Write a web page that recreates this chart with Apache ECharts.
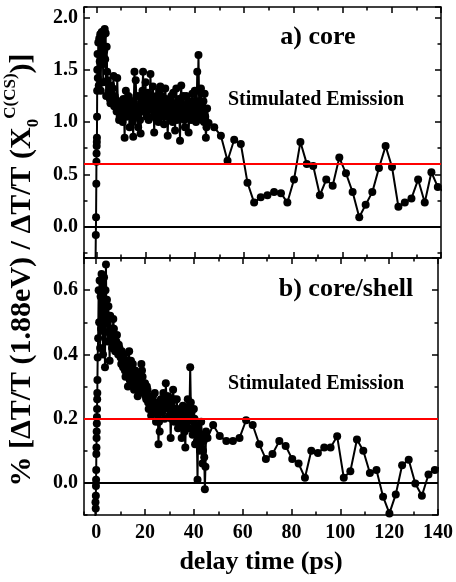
<!DOCTYPE html>
<html>
<head>
<meta charset="utf-8">
<script src="https://cdn.jsdelivr.net/npm/echarts@6/dist/echarts.min.js"></script>
<style>
  html, body { margin: 0; padding: 0; background: #fff; }
  #chart { width: 456px; height: 582px; }
</style>
</head>
<body>
<div id="chart"></div>
<script>
// rise near zero delay
var coreRiseDelay  = [-0.4, -0.2, -0.1, 0, 0.05, 0.1, 0.15, 0.2, 0.25, 0.3, 0.35, 0.4, 0.5,
  0.6, 0.8, 1.0, 1.2, 1.4, 1.6, 1.8, 2.0, 2.2, 2.4, 2.6, 2.8, 3.0, 3.2, 3.4, 3.6, 3.8, 4.0, 4.2, 4.4];
var coreRiseSignal = [-0.55, -0.08, 0.09, 0.41, 0.62, 0.70, 0.77, 0.81, 0.85, 1.05, 1.30, 1.50, 1.65,
  1.42, 1.76, 1.35, 1.80, 1.58, 1.84, 1.30, 1.78, 1.86, 1.55, 1.82, 1.38, 1.87, 1.68, 1.89, 1.60, 1.85, 1.25, 1.72, 1.48];

var shellRiseDelay  = [-0.4, -0.3, -0.2, -0.15, -0.1, -0.05, 0, 0.05, 0.1, 0.15, 0.2, 0.25, 0.3, 0.35, 0.4, 0.45, 0.5, 0.6,
  0.8, 1.0, 1.2, 1.4, 1.6, 1.8, 2.0, 2.2, 2.4, 2.6, 2.8, 3.0, 3.2, 3.4, 3.6, 3.8, 4.0, 4.2, 4.4];
var shellRiseSignal = [-0.16, -0.06, -0.08, -0.04, -0.01, 0.01, 0.04, 0.09, 0.11, 0.14, 0.16, 0.185, 0.205, 0.23, 0.26, 0.28, 0.32, 0.39,
  0.45, 0.60, 0.50, 0.63, 0.42, 0.58, 0.48, 0.65, 0.52, 0.62, 0.40, 0.55, 0.64, 0.47, 0.36, 0.60, 0.68, 0.50, 0.57];

// delays after the peak, shared by both panels
var tailDelay = [4.6, 5.0, 5.5, 6.0, 6.5, 7.0, 7.5, 8.0, 8.5, 9.0, 9.5, 10.0, 10.5, 11.0, 11.5, 12.0, 12.5, 13.0, 13.5, 14.0,
  14.5, 15.0, 15.5, 16.0, 16.5, 17.0, 17.5, 18.0, 18.5, 19.0, 19.5, 20.0, 20.5, 21.0, 21.5, 22.0, 22.5, 23.0, 23.5, 24.0,
  24.5, 25.0, 25.5, 26.0, 26.5, 27.0, 27.5, 28.0, 28.5, 29.0, 29.5, 30.0, 30.5, 31.0, 31.5, 32.0, 32.5, 33.0, 33.5, 34.0,
  34.5, 35.0, 35.5, 36.0, 36.5, 37.0, 37.5, 38.0, 38.5, 39.0, 39.5, 40.0, 40.5, 41.0, 41.5, 42.0, 42.5, 43.0, 43.5, 44.0,
  44.5, 45.0, 45.6,
  47.9, 50.6, 53.3, 56.0, 58.7, 61.4, 64.1, 66.8, 69.5, 72.2, 75.0, 77.6, 80.3, 82.9, 85.5, 88.1, 90.8, 93.4, 96.0, 98.7,
  101.4, 104.1, 106.8, 109.4, 112.1, 114.8, 117.5, 120.1, 122.7, 125.3, 128.0, 130.7, 133.4, 136.1, 138.7, 141.3];

var coreTail = [1.40, 1.28, 1.22, 1.35, 1.20, 1.44, 1.25, 1.15, 1.42, 1.12,
  1.05, 1.18, 1.08, 1.22, 0.85, 1.30, 1.10, 1.25, 0.95, 1.15,
  1.05, 0.86, 1.48, 1.40, 1.10, 0.95, 1.25, 0.89, 1.20, 1.48,
  1.10, 1.38, 1.05, 1.28, 1.12, 1.46, 1.20, 1.34, 0.90, 1.15,
  1.25, 1.05, 1.30, 1.34, 1.10, 1.18, 0.98, 1.32, 1.12, 0.87,
  1.20, 1.08, 1.25, 1.00, 1.18, 0.92, 1.32, 1.10, 1.22, 0.82,
  1.35, 1.05, 1.15, 0.95, 1.25, 1.08, 0.90, 1.20, 1.02, 1.27,
  1.10, 1.30, 1.00, 1.48, 1.64, 1.12, 1.32, 1.02, 1.20, 1.27,
  0.85, 1.13, 0.99,
  0.95, 0.87, 0.63, 0.83, 0.79, 0.42, 0.23, 0.28, 0.30, 0.33, 0.32, 0.23, 0.45, 0.81, 0.60, 0.58, 0.30, 0.45, 0.39, 0.66,
  0.51, 0.33, 0.09, 0.21, 0.33, 0.56, 0.77, 0.57, 0.19, 0.23, 0.27, 0.45, 0.23, 0.52, 0.38, 0.33];

var shellTail = [0.44, 0.55, 0.38, 0.48, 0.42, 0.51, 0.45, 0.43, 0.46, 0.40,
  0.42, 0.39, 0.41, 0.36, 0.40, 0.33, 0.38, 0.30, 0.41, 0.34,
  0.31, 0.37, 0.29, 0.35, 0.32, 0.27, 0.34, 0.30, 0.37, 0.33,
  0.28, 0.31, 0.26, 0.29, 0.23, 0.27, 0.21, 0.25, 0.22, 0.28,
  0.19, 0.24, 0.12, 0.16, 0.26, 0.22, 0.28, 0.20, 0.31, 0.24,
  0.27, 0.21, 0.14, 0.25, 0.29, 0.19, 0.23, 0.26, 0.17, 0.22,
  0.20, 0.14, 0.24, 0.18, 0.11, 0.21, 0.26, 0.17, 0.36, 0.22,
  0.15, 0.23, 0.12, 0.18, 0.01, 0.15, 0.10, 0.19, 0.06, 0.13,
  -0.02, 0.16, 0.14,
  0.18, 0.146, 0.13, 0.13, 0.14, 0.195, 0.18, 0.12, 0.074, 0.09, 0.13, 0.115, 0.074, 0.06, 0.016, 0.10, 0.093, 0.11, 0.11, 0.145,
  0.016, 0.036, 0.135, 0.10, 0.031, 0.04, -0.043, -0.095, -0.036, 0.055, 0.072, -0.002, -0.04, 0.026, 0.04, 0.05];

// in-between samples of the dense 5-45 ps stretch
var midDelay = [5.25, 5.75, 6.25, 6.75, 7.25, 7.75, 8.25, 8.75, 9.25, 9.75,
  10.25, 10.75, 11.25, 11.75, 12.25, 12.75, 13.25, 13.75, 14.25, 14.75,
  15.25, 15.75, 16.25, 16.75, 17.25, 17.75, 18.25, 18.75, 19.25, 19.75,
  20.25, 20.75, 21.25, 21.75, 22.25, 22.75, 23.25, 23.75, 24.25, 24.75,
  25.25, 25.75, 26.25, 26.75, 27.25, 27.75, 28.25, 28.75, 29.25, 29.75,
  30.25, 30.75, 31.25, 31.75, 32.25, 32.75, 33.25, 33.75, 34.25, 34.75,
  35.25, 35.75, 36.25, 36.75, 37.25, 37.75, 38.25, 38.75, 39.25, 39.75,
  40.25, 40.75, 41.25, 41.75, 42.25, 42.75, 43.25, 43.75, 44.25, 44.75];
var coreMid = [1.30, 1.18, 1.25, 1.32, 1.15, 1.22, 1.10, 1.20, 1.02, 1.12,
  1.15, 1.00, 1.10, 1.20, 1.05, 1.15, 1.22, 1.08, 1.18, 1.00,
  1.20, 1.12, 1.25, 1.05, 1.15, 1.02, 1.18, 1.30, 1.12, 1.22,
  1.08, 1.18, 1.02, 1.25, 1.12, 1.05, 1.18, 1.10, 1.20, 1.12,
  1.00, 1.22, 1.15, 1.25, 1.05, 1.15, 1.22, 1.05, 1.10, 1.15,
  1.20, 1.05, 1.28, 1.10, 1.15, 1.02, 1.12, 1.05, 1.20, 1.10,
  1.25, 1.02, 1.15, 1.12, 1.20, 1.05, 1.12, 1.18, 1.05, 1.15,
  1.20, 1.10, 1.30, 1.20, 1.05, 1.15, 1.10, 1.00, 1.05, 0.95];
var shellMid = [0.47, 0.52, 0.44, 0.47, 0.48, 0.41, 0.44, 0.42, 0.43, 0.40,
  0.37, 0.40, 0.38, 0.35, 0.36, 0.34, 0.36, 0.32, 0.38, 0.33,
  0.33, 0.31, 0.30, 0.33, 0.29, 0.31, 0.33, 0.35, 0.30, 0.29,
  0.27, 0.30, 0.25, 0.27, 0.24, 0.23, 0.27, 0.24, 0.25, 0.22,
  0.21, 0.19, 0.23, 0.24, 0.25, 0.26, 0.24, 0.27, 0.25, 0.23,
  0.24, 0.20, 0.22, 0.26, 0.22, 0.20, 0.23, 0.21, 0.19, 0.18,
  0.20, 0.21, 0.16, 0.19, 0.23, 0.21, 0.24, 0.25, 0.20, 0.19,
  0.20, 0.16, 0.13, 0.17, 0.12, 0.14, 0.15, 0.10, 0.08, 0.05];

var coreLevel = 0.6, shellLevel = 0.2;

var serif = '"Liberation Serif", "DejaVu Serif", serif';

// zip delay/value lists into [x, y] points ordered by delay
function pairs(xs, ys) {
  var out = [];
  for (var i = 0; i < xs.length; i++) out.push([xs[i], ys[i]]);
  out.sort(function (a, b) { return a[0] - b[0]; });
  return out;
}

// one axis = one set of inward ticks on a frame side
function xAx(grid, pos, step, len, labels) {
  return {
    type: 'value', gridIndex: grid, position: pos, min: -5, max: 140,
    minInterval: step, maxInterval: step, splitNumber: 20,
    axisLine: { show: false, onZero: false },
    axisTick: { show: true, inside: true, length: len, lineStyle: { color: '#000', width: 1.5 } },
    axisLabel: { show: labels, showMinLabel: false, color: '#000', fontFamily: serif, fontWeight: 'bold', fontSize: 20, margin: 8 },
    splitLine: { show: false }
  };
}
function yAx(grid, pos, min, max, step, len, labels) {
  return {
    type: 'value', gridIndex: grid, position: pos, min: min, max: max,
    minInterval: step, maxInterval: step, splitNumber: 20,
    axisLine: { show: false, onZero: false },
    axisTick: { show: true, inside: true, length: len, lineStyle: { color: '#000', width: 1.5 } },
    axisLabel: { show: labels, showMinLabel: false, showMaxLabel: false, color: '#000', fontFamily: serif,
      fontWeight: 'bold', fontSize: 20, margin: 6, formatter: function (v) { return v.toFixed(1); } },
    splitLine: { show: false }
  };
}

var xAxes = [
  xAx(0, 'bottom', 20, 6, false),
  xAx(1, 'bottom', 20, 6, true),
  xAx(0, 'bottom', 10, 3.5, false), xAx(0, 'top', 20, 6, false), xAx(0, 'top', 10, 3.5, false),
  xAx(1, 'bottom', 10, 3.5, false), xAx(1, 'top', 20, 6, false), xAx(1, 'top', 10, 3.5, false)
];
xAxes[1].name = 'delay time (ps)';
xAxes[1].nameLocation = 'middle';
xAxes[1].nameGap = 34;
xAxes[1].nameTextStyle = { color: '#000', fontFamily: serif, fontWeight: 'bold', fontSize: 26 };

var yAxes = [
  yAx(0, 'left', -0.3, 2.1, 0.5, 6, true),
  yAx(1, 'left', -0.1, 0.7, 0.2, 6, true),
  yAx(0, 'left', -0.3, 2.1, 0.25, 3.5, false), yAx(0, 'right', -0.3, 2.1, 0.5, 6, false), yAx(0, 'right', -0.3, 2.1, 0.25, 3.5, false),
  yAx(1, 'left', -0.1, 0.7, 0.1, 3.5, false), yAx(1, 'right', -0.1, 0.7, 0.2, 6, false), yAx(1, 'right', -0.1, 0.7, 0.1, 3.5, false)
];

function traceSeries(idx, data, level) {
  return {
    type: 'line', xAxisIndex: idx, yAxisIndex: idx, data: data,
    symbol: 'circle', symbolSize: 8, showSymbol: true,
    itemStyle: { color: '#000' },
    lineStyle: { color: '#000', width: 2 },
    clip: true, silent: true, animation: false,
    markLine: {
      silent: true, symbol: 'none', label: { show: false }, animation: false,
      data: [
        { yAxis: 0, lineStyle: { color: '#000', width: 1.8, type: 'solid' } },
        { yAxis: level, lineStyle: { color: '#f00', width: 2, type: 'solid' } }
      ]
    }
  };
}

var chart = echarts.init(document.getElementById('chart'), null, { renderer: 'canvas' });
chart.setOption({
  backgroundColor: '#fff',
  animation: false,
  grid: [
    { left: 84, top: 7, width: 357, height: 251, show: true, borderColor: '#000', borderWidth: 1.5, backgroundColor: 'transparent' },
    { left: 84, top: 258, width: 357, height: 257, show: true, borderColor: '#000', borderWidth: 1.5, backgroundColor: 'transparent' }
  ],
  xAxis: xAxes,
  yAxis: yAxes,
  series: [
    traceSeries(0, pairs(coreRiseDelay.concat(tailDelay, midDelay), coreRiseSignal.concat(coreTail, coreMid)), coreLevel),
    traceSeries(1, pairs(shellRiseDelay.concat(tailDelay, midDelay), shellRiseSignal.concat(shellTail, shellMid)), shellLevel)
  ],
  graphic: [
    { type: 'text', x: 318, y: 37, style: { text: 'a) core', fill: '#000', font: 'bold 26px ' + serif, align: 'center', verticalAlign: 'middle' } },
    { type: 'text', x: 346, y: 289, style: { text: 'b) core/shell', fill: '#000', font: 'bold 26px ' + serif, align: 'center', verticalAlign: 'middle' } },
    { type: 'text', x: 316, y: 100, style: { text: 'Stimulated Emission', fill: '#000', font: 'bold 20px ' + serif, align: 'center', verticalAlign: 'middle' } },
    { type: 'text', x: 316, y: 384, style: { text: 'Stimulated Emission', fill: '#000', font: 'bold 20px ' + serif, align: 'center', verticalAlign: 'middle' } },
    {
      type: 'text', x: 22, y: 270, rotation: Math.PI / 2,
      style: {
        text: '{m|% [ΔT/T (1.88eV) / ΔT/T (X}{sub|0}{sup|C(CS)}{m|)]}',
        align: 'center', verticalAlign: 'middle', fill: '#000',
        rich: {
          m: { fontFamily: serif, fontWeight: 'bold', fontSize: 30, lineHeight: 40, fill: '#000' },
          sub: { fontFamily: serif, fontWeight: 'bold', fontSize: 17, lineHeight: 17, verticalAlign: 'bottom', fill: '#000' },
          sup: { fontFamily: serif, fontWeight: 'bold', fontSize: 17, lineHeight: 17, verticalAlign: 'top', fill: '#000' }
        }
      }
    }
  ]
});
</script>
</body>
</html>
